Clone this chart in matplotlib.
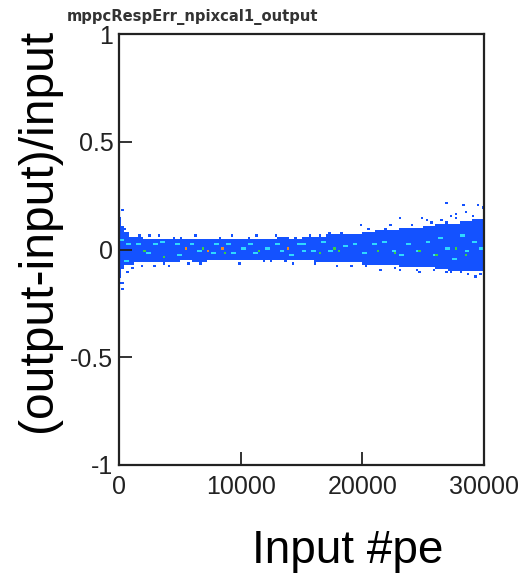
import numpy as np
import matplotlib
matplotlib.use('Agg')
import matplotlib.pyplot as plt
from matplotlib.colors import ListedColormap, BoundaryNorm

# Dense part of the residual band: extent per input range
seg_edges = [0, 200, 400, 800, 1300, 2000, 3000, 4000, 5000, 6000, 7000, 8000,
             9000, 10000, 11000, 12000, 13000, 14000, 15000, 16000, 17000,
             18000, 19000, 20000, 21000, 22000, 23000, 24000, 25000, 26000,
             27000, 28000, 29000, 30000]
band_hi = [0.15, 0.11, 0.083, 0.065, 0.058, 0.055, 0.055, 0.05, 0.055, 0.05,
           0.055, 0.05, 0.055, 0.05, 0.055, 0.05, 0.056, 0.05, 0.058, 0.062,
           0.066, 0.07, 0.075, 0.08, 0.088, 0.092, 0.1, 0.105, 0.11, 0.118,
           0.125, 0.132, 0.137]
band_lo = [-0.13, -0.09, -0.072, -0.066, -0.062, -0.06, -0.056, -0.056, -0.05,
           -0.056, -0.05, -0.047, -0.05, -0.05, -0.047, -0.05, -0.05, -0.05,
           -0.052, -0.056, -0.058, -0.062, -0.064, -0.066, -0.07, -0.072,
           -0.075, -0.08, -0.082, -0.09, -0.095, -0.1, -0.1]

# Isolated single-entry cells outside the dense band
out_x = [220, 220, 350, 220, 630, 760, 1040, 2960, 4050, 5150, 7070, 9390,
         10630, 12410, 13640, 18300, 19150, 19890, 21430, 23100, 23100, 24660,
         24880, 25290, 26880, 26930, 26930, 27760, 28030, 28250, 28580, 29320,
         29510, 150, 100, 480, 16400, 22300, 27200, 29900, 29700,
         1700, 2500, 3300, 4400, 6300, 8200, 11300, 12800, 14500, 15700,
         17300, 20500, 21900, 24100, 25600, 26400, 27600, 29100,
         1900, 3600, 5600, 6700, 9800, 11800, 14200, 16100, 17800, 20200,
         22700, 24400, 25900, 27300, 28700, 29600]
out_y = [0.183, 0.098, -0.157, -0.188, -0.103, 0.075, -0.08, -0.072, -0.072,
         0.059, -0.057, 0.067, 0.055, -0.057, -0.057, 0.078, -0.077, 0.111,
         -0.09, 0.146, -0.09, -0.103, 0.145, 0.137, 0.216, 0.129, -0.103,
         0.168, -0.103, 0.203, 0.175, -0.126, 0.203, 0.12, -0.16, 0.1, 0.07,
         0.115, 0.155, 0.19, -0.115,
         0.065, 0.062, 0.065, 0.06, 0.062, 0.06, 0.062, 0.065, 0.06, 0.07,
         0.08, 0.095, 0.1, 0.118, 0.125, 0.135, 0.15, 0.155,
         -0.07, -0.065, -0.06, -0.065, -0.06, -0.058, -0.06, -0.065, -0.07,
         -0.075, -0.082, -0.09, -0.092, -0.1, -0.11, -0.11]

# Higher-occupancy cells inside the band
cyan_x = [80, 490, 770, 1450, 2270, 2960, 3510, 4600, 4880, 5970, 6520, 7620,
          7890, 8990, 9390, 10090, 10630, 11180, 12000, 12820, 13230, 14190,
          14600, 15010, 15150, 15970, 16790, 17340, 18440, 19260, 20080,
          20900, 21720, 22550, 23100, 23650, 24470, 25290, 25830, 26380,
          26930, 27480, 28030, 28580, 29120, 29670]
cyan_y = [0.044, -0.056, 0.029, 0.021, -0.018, 0.029, 0.036, 0.021, -0.026,
          0.021, -0.01, -0.018, 0.021, 0.021, -0.018, 0.005, 0.029, -0.018,
          0.005, 0.021, -0.01, -0.026, 0.021, -0.002, 0.021, -0.002, 0.036,
          -0.01, 0.013, 0.029, -0.018, 0.021, 0.036, -0.002, -0.026, 0.021,
          -0.002, 0.036, -0.026, 0.052, 0.005, -0.041, 0.067, -0.01, 0.036,
          0.005]
green_x = [2000, 3730, 6930, 8710, 11590, 16520, 17750, 18020, 21310, 22680,
           24740, 26110, 27760, 28580]
green_y = [-0.002, -0.032, 0.005, -0.018, -0.01, -0.018, 0.005, -0.002,
           -0.002, -0.018, -0.01, -0.026, 0.005, -0.026]
orange_x = [5420, 7200, 8440, 13920]
orange_y = [0.003, -0.002, 0.005, 0.003]

x_edges = np.arange(0, 30001, 200)
y_edges = np.linspace(-1, 1, 201)
xc = 0.5 * (x_edges[:-1] + x_edges[1:])
yc = 0.5 * (y_edges[:-1] + y_edges[1:])

counts = np.zeros((len(xc), len(yc)), dtype=int)
for i in range(len(band_hi)):
    sel_x = (xc >= seg_edges[i]) & (xc < seg_edges[i + 1])
    sel_y = (yc >= band_lo[i]) & (yc <= band_hi[i])
    counts[np.ix_(sel_x, sel_y)] = 1


def fill(xs, ys, level, width=1):
    ix = np.searchsorted(x_edges, xs, side='right') - 1
    iy = np.clip(np.searchsorted(y_edges, ys, side='right') - 1, 0, len(yc) - 1)
    for k in range(width):
        jx = np.clip(ix + k, 0, len(xc) - 1)
        counts[jx, iy] = np.maximum(counts[jx, iy], level)


fill(out_x, out_y, 1)
fill(cyan_x, cyan_y, 2, width=2)
fill(green_x, green_y, 3)
fill(orange_x, orange_y, 4)

cmap = ListedColormap(['#1452ff', '#2fd8ff', '#3ccf45', '#f08a20'])
norm = BoundaryNorm([0.5, 1.5, 2.5, 3.5, 4.5], cmap.N)

plt.rcParams['font.family'] = ['Liberation Sans', 'DejaVu Sans']

fig = plt.figure(figsize=(5.19, 5.73), dpi=100)
ax = fig.add_axes([119 / 519, 1 - 465 / 573, 365 / 519, 431 / 573])

ax.pcolormesh(x_edges, y_edges, np.ma.masked_equal(counts, 0).T,
              cmap=cmap, norm=norm, shading='flat')

ax.set_xlim(0, 30000)
ax.set_ylim(-1, 1)
ax.set_xticks([0, 10000, 20000, 30000])
ax.set_xticklabels(['0', '10000', '20000', '30000'])
ax.set_yticks([-1, -0.5, 0, 0.5, 1])
ax.set_yticklabels(['-1', '-0.5', '0', '0.5', '1'])
ax.tick_params(direction='in', length=9.5, width=1.3, color='#222222',
               labelsize=18, labelcolor='#222222')
ax.tick_params(axis='y', pad=4)
ax.tick_params(axis='x', pad=7)
for sp in ax.spines.values():
    sp.set_linewidth(1.6)
    sp.set_color('#222222')

fig.text(67 / 519, 1 - 17 / 573, 'mppcRespErr_npixcal1_output',
         fontsize=10.6, fontweight='bold', family='DejaVu Sans',
         color='#333333', ha='left', va='center')
fig.text(39 / 519, 1 - 230 / 573, '(output-input)/input', rotation=90,
         fontsize=34.5, ha='center', va='center')
fig.text(348 / 519, 1 - 563 / 573, 'Input #pe', fontsize=33,
         ha='center', va='baseline')

fig.savefig('out.png', dpi=100)
